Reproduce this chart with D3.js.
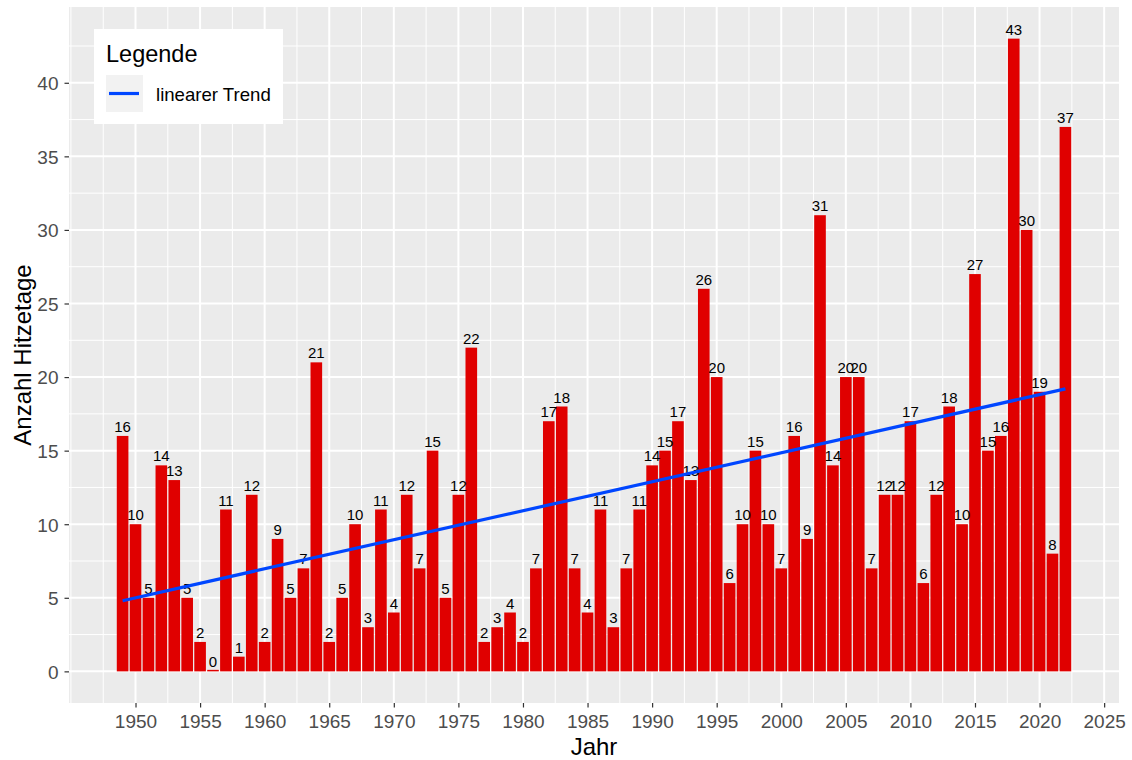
<!DOCTYPE html>
<html>
<head>
<meta charset="utf-8">
<script src="https://cdn.jsdelivr.net/npm/d3@7"></script>
<style>
  html, body { margin: 0; padding: 0; background: #fff; }
  svg { display: block; font-family: "Liberation Sans", Arial, sans-serif; }
</style>
</head>
<body>
<svg id="chart" width="1132" height="760"></svg>
<script>
const years = d3.range(1949, 2023);
const hotDays = [16,10,5,14,13,5,2,0,11,1,12,2,9,5,7,21,2,5,10,3,11,4,12,7,15,5,12,22,2,3,4,2,7,17,18,7,4,11,3,7,11,14,15,17,13,26,20,6,10,15,10,7,16,9,31,14,20,20,7,12,12,17,6,12,18,10,27,15,16,43,30,19,8,37];
const trendYears = [1949, 2022];
const trendValues = [4.8, 19.2];
const xTicks = [1950,1955,1960,1965,1970,1975,1980,1985,1990,1995,2000,2005,2010,2015,2020,2025];
const xMinor = [1945,1947.5,1952.5,1957.5,1962.5,1967.5,1972.5,1977.5,1982.5,1987.5,1992.5,1997.5,2002.5,2007.5,2012.5,2017.5,2022.5];
const yTicks = [0,5,10,15,20,25,30,35,40];
const yMinor = [2.5,7.5,12.5,17.5,22.5,27.5,32.5,37.5,42.5];

const svg = d3.select("#chart");
const P = {left: 69, right: 1119, top: 7, bottom: 703};

const x = d3.scaleLinear().domain([1944.85, 2026.15]).range([P.left, P.right]);
const y = d3.scaleLinear().domain([-2.15, 45.15]).range([P.bottom, P.top]);

// panel
svg.append("rect").attr("x", P.left).attr("y", P.top)
  .attr("width", P.right - P.left).attr("height", P.bottom - P.top).attr("fill", "#EBEBEB");

const grid = svg.append("g");
grid.selectAll(".xm").data(xMinor).join("line")
  .attr("x1", d => x(d)).attr("x2", d => x(d)).attr("y1", P.top).attr("y2", P.bottom)
  .attr("stroke", "#fff").attr("stroke-width", 1);
grid.selectAll(".ym").data(yMinor).join("line")
  .attr("y1", d => y(d)).attr("y2", d => y(d)).attr("x1", P.left).attr("x2", P.right)
  .attr("stroke", "#fff").attr("stroke-width", 1);
grid.selectAll(".xM").data(xTicks).join("line")
  .attr("x1", d => x(d)).attr("x2", d => x(d)).attr("y1", P.top).attr("y2", P.bottom)
  .attr("stroke", "#fff").attr("stroke-width", 2);
grid.selectAll(".yM").data(yTicks).join("line")
  .attr("y1", d => y(d)).attr("y2", d => y(d)).attr("x1", P.left).attr("x2", P.right)
  .attr("stroke", "#fff").attr("stroke-width", 2);

// bars
const bw = (x(1) - x(0)) * 0.9;
const data = years.map((yr, i) => ({yr, v: hotDays[i]}));
svg.append("g").selectAll("rect").data(data).join("rect")
  .attr("x", d => x(d.yr) - bw / 2)
  .attr("y", d => Math.min(y(d.v), y(0) - 1.5))
  .attr("width", bw)
  .attr("height", d => Math.max(y(0) - y(d.v), 1.5))
  .attr("fill", "#E00000");

// labels
svg.append("g").selectAll("text").data(data).join("text")
  .attr("x", d => x(d.yr))
  .attr("y", d => y(d.v) - 4)
  .attr("text-anchor", "middle")
  .attr("font-size", 15)
  .attr("fill", "#000")
  .text(d => d.v);

// trend
const line = d3.line().x(d => x(d[0])).y(d => y(d[1]));
svg.append("path")
  .datum(trendYears.map((t, i) => [t, trendValues[i]]))
  .attr("d", line)
  .attr("fill", "none").attr("stroke", "#0046FF").attr("stroke-width", 3.2);

// axes
const xAxis = d3.axisBottom(x).tickValues(xTicks).tickSize(4.5).tickPadding(4).tickFormat(d3.format("d"));
const gx = svg.append("g").attr("transform", `translate(0,${P.bottom})`).call(xAxis);
gx.select(".domain").remove();
gx.selectAll("line").attr("stroke", "#333").attr("stroke-width", 1.2);
gx.selectAll("text").attr("fill", "#4D4D4D").attr("font-size", 19).attr("dy", null).attr("y", 25)
  .attr("font-family", "Liberation Sans, Arial, sans-serif");

const yAxis = d3.axisLeft(y).tickValues(yTicks).tickSize(4.5).tickPadding(6);
const gy = svg.append("g").attr("transform", `translate(${P.left},0)`).call(yAxis);
gy.select(".domain").remove();
gy.selectAll("line").attr("stroke", "#333").attr("stroke-width", 1.2);
gy.selectAll("text").attr("fill", "#4D4D4D").attr("font-size", 19).attr("dy", "0.36em")
  .attr("font-family", "Liberation Sans, Arial, sans-serif");

// titles
svg.append("text").attr("x", (P.left + P.right) / 2).attr("y", 755)
  .attr("text-anchor", "middle").attr("font-size", 24).attr("fill", "#000").text("Jahr");
svg.append("text").attr("transform", `translate(31,${(P.top + P.bottom) / 2}) rotate(-90)`)
  .attr("text-anchor", "middle").attr("font-size", 24).attr("fill", "#000").text("Anzahl Hitzetage");

// legend
const lg = svg.append("g");
lg.append("rect").attr("x", 94).attr("y", 29).attr("width", 189).attr("height", 95).attr("fill", "#fff");
lg.append("text").attr("x", 106).attr("y", 62).attr("font-size", 23.5).attr("fill", "#000").text("Legende");
lg.append("rect").attr("x", 106).attr("y", 75).attr("width", 37).attr("height", 37).attr("fill", "#F2F2F2");
lg.append("line").attr("x1", 109).attr("x2", 139).attr("y1", 93.5).attr("y2", 93.5)
  .attr("stroke", "#0046FF").attr("stroke-width", 3.2);
lg.append("text").attr("x", 156).attr("y", 101).attr("font-size", 18.6).attr("fill", "#000").text("linearer Trend");
</script>
</body>
</html>
